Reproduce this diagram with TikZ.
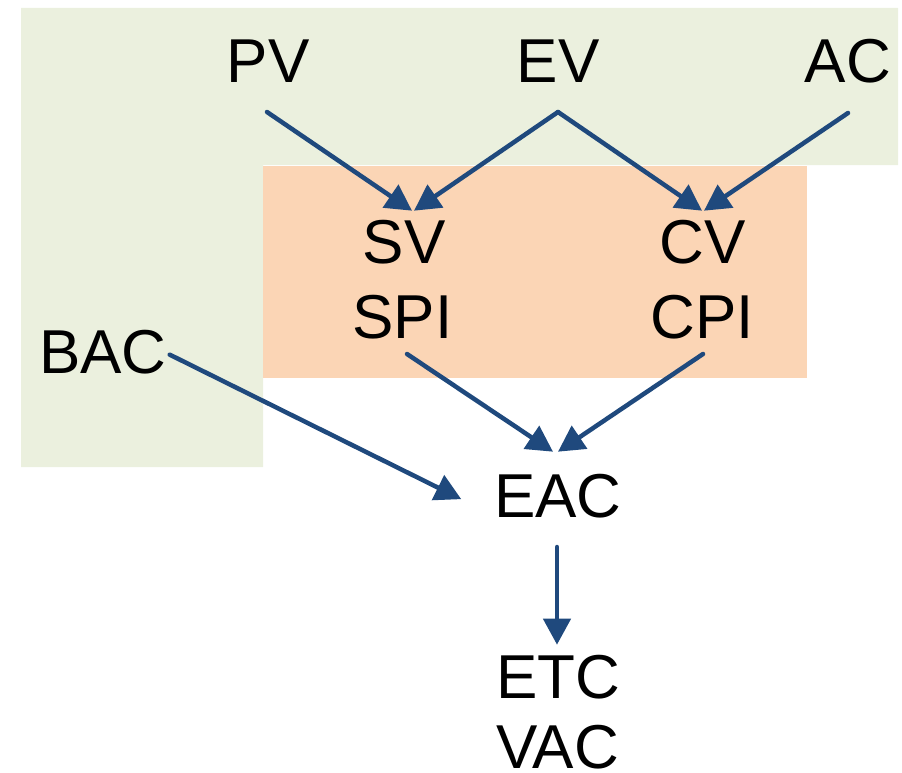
\documentclass[tikz,border=0pt]{standalone}
\usepackage{fontspec}
\setmainfont{Liberation Sans}
\usetikzlibrary{arrows.meta}
\definecolor{bggreen}{HTML}{EBF0DE}
\definecolor{bgorange}{HTML}{FBD5B5}
\definecolor{arrblue}{HTML}{1F497D}
\begin{document}
\begin{tikzpicture}[x=1pt,y=1pt,
  lbl/.style={inner sep=0pt,outer sep=0pt,anchor=base,font=\fontsize{62}{74}\selectfont},
  arr/.style={draw=arrblue,line width=4.5pt,line cap=round,-{Triangle[length=26pt,width=27pt]}}]
\useasboundingbox (0,0) rectangle (902,-773);
% backgrounds
\fill[bggreen] (21,-8) -- (898,-8) -- (898,-165) -- (263,-165) -- (263,-467) -- (21,-467) -- cycle;
\fill[bgorange] (263,-166) rectangle (807,-378);
% labels
\node[lbl] (PV) at (268,-83) {PV};
\node[lbl] (EV) at (558,-83) {EV};
\node[lbl] (AC) at (848,-83) {AC};
\node[lbl] (SV) at (404,-263) {SV};
\node[lbl] (SPI) at (402.5,-338) {SPI};
\node[lbl] (CV) at (703,-263) {CV};
\node[lbl] (CPI) at (702.5,-338) {CPI};
\node[lbl] (BAC) at (103,-373) {BAC};
\node[lbl] (EAC) at (558,-517) {EAC};
\node[lbl] (ETC) at (558.5,-698) {ETC};
\node[lbl] (VAC) at (557.5,-768) {VAC};
% connectors
\draw[arr] ([xshift=-1pt,yshift=-29pt]PV.base) -- ([xshift=8pt,yshift=9pt]SV.north);
\draw[arr] ([yshift=-29pt]EV.base) -- ([xshift=10pt,yshift=9pt]SV.north);
\draw[arr] ([yshift=-29pt]EV.base) -- ([xshift=-1pt,yshift=9pt]CV.north);
\draw[arr] ([yshift=-30pt]AC.base) -- ([xshift=1pt,yshift=9pt]CV.north);
\draw[arr] ([xshift=4.5pt,yshift=-16pt]SPI.base) -- ([xshift=-5pt,yshift=22pt]EAC.north);
\draw[arr] ([xshift=0.5pt,yshift=-16pt]CPI.base) -- ([xshift=0pt,yshift=22pt]EAC.north);
\draw[arr] ([xshift=3pt,yshift=-3pt]BAC.east) -- ([xshift=-33pt,yshift=-3.5pt]EAC.west);
\draw[arr] ([xshift=-1pt,yshift=-30pt]EAC.base) -- ([xshift=-1.5pt,yshift=10pt]ETC.north);
\end{tikzpicture}
\end{document}
